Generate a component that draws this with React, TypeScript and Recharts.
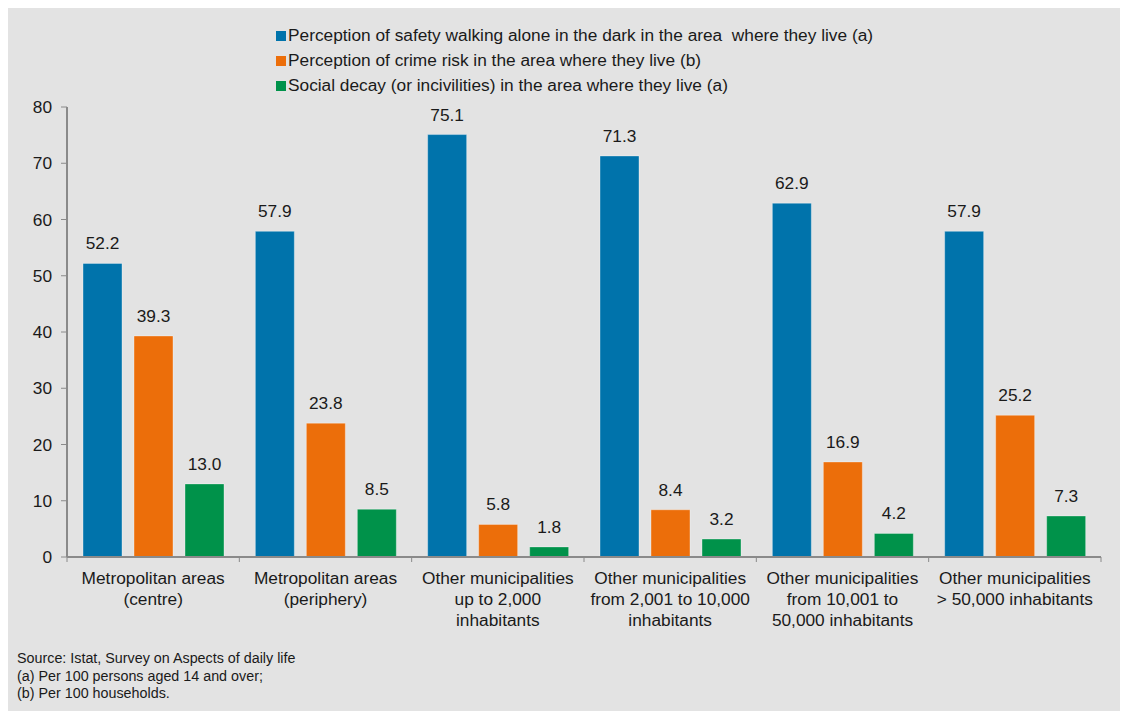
import { Bar, BarChart, LabelList, Legend, XAxis, YAxis } from 'recharts'

const categories = [
  'Metropolitan areas\n(centre)',
  'Metropolitan areas\n(periphery)',
  'Other municipalities\nup to 2,000\ninhabitants',
  'Other municipalities\nfrom 2,001 to 10,000\ninhabitants',
  'Other municipalities\nfrom 10,001 to\n50,000 inhabitants',
  'Other municipalities\n> 50,000 inhabitants',
]
const safety = [52.2, 57.9, 75.1, 71.3, 62.9, 57.9]
const crime = [39.3, 23.8, 5.8, 8.4, 16.9, 25.2]
const decay = [13.0, 8.5, 1.8, 3.2, 4.2, 7.3]
const yTicks = [0, 10, 20, 30, 40, 50, 60, 70, 80]
const notes = [
  'Source: Istat, Survey on Aspects of daily life',
  '(a) Per 100 persons aged 14 and over;',
  '(b) Per 100 households.',
]

const SERIES = [
  { key: 'safety', name: 'Perception of safety walking alone in the dark in the area  where they live (a)', color: '#0073ab' },
  { key: 'crime', name: 'Perception of crime risk in the area where they live (b)', color: '#ec6e0a' },
  { key: 'decay', name: 'Social decay (or incivilities) in the area where they live (a)', color: '#00924a' },
]

const data = categories.map((name, i) => ({ name, safety: safety[i], crime: crime[i], decay: decay[i] }))

const W = 1120
const H = 703
const LEFT = 59
const RIGHT = 27
const FS = 17.3
const FONT = '"Liberation Sans", Arial, sans-serif'
const TEXT = '#1a1a1a'
const AXIS = '#8a8a8a'
const BAND = (W - LEFT - RIGHT) / categories.length

function XTick(props: any) {
  const { x, y, payload, index } = props
  const half = payload?.offset || BAND / 2
  const lines = String(payload.value).split('\n')
  return (
    <g>
      <line x1={x - half} x2={x - half} y1={y - 8} y2={y - 3} stroke={AXIS} />
      {index === categories.length - 1 && (
        <line x1={x + half} x2={x + half} y1={y - 8} y2={y - 3} stroke={AXIS} />
      )}
      {lines.map((l, i) => (
        <text key={i} x={x} y={y + 19 + i * 21} textAnchor="middle" fontSize={FS} fill={TEXT} fontFamily={FONT}>
          {l}
        </text>
      ))}
    </g>
  )
}

function LegendBox() {
  return (
    <div style={{ fontFamily: FONT, fontSize: FS, color: TEXT }}>
      {SERIES.map((s) => (
        <div key={s.key} style={{ display: 'flex', alignItems: 'center', height: 25, whiteSpace: 'pre' }}>
          <span style={{ width: 10, height: 10, background: s.color, marginRight: 2, display: 'inline-block' }} />
          <span>{s.name}</span>
        </div>
      ))}
    </div>
  )
}

export default function App() {
  return (
    <div style={{ position: 'relative', width: W, height: H, background: '#e3e3e3', fontFamily: FONT }}>
      <BarChart
        width={W}
        height={H}
        data={data}
        margin={{ top: 99, right: RIGHT, left: 0, bottom: 0 }}
        barCategoryGap={16}
        barGap={12}
      >
        <Legend
          layout="vertical"
          align="center"
          verticalAlign="middle"
          content={() => <LegendBox />}
          wrapperStyle={{ top: 15, left: 268, width: 'auto', height: 'auto' }}
        />
        <XAxis
          dataKey="name"
          height={154}
          interval={0}
          tickLine={false}
          axisLine={{ stroke: AXIS, strokeWidth: 2 }}
          tick={<XTick />}
        />
        <YAxis
          width={LEFT}
          domain={[0, 80]}
          ticks={yTicks}
          tickSize={6}
          tickMargin={9}
          tickLine={{ stroke: AXIS }}
          axisLine={{ stroke: AXIS, strokeWidth: 2 }}
          tick={{ fill: TEXT, fontSize: FS, fontFamily: FONT }}
        />
        {SERIES.map((s) => (
          <Bar
            key={s.key}
            dataKey={s.key}
            name={s.name}
            fill={s.color}
            stroke="rgba(255,255,255,0.35)"
            strokeWidth={1}
            isAnimationActive={false}
          >
            <LabelList
              dataKey={s.key}
              position="top"
              offset={14}
              fill={TEXT}
              fontSize={FS}
              fontFamily={FONT}
              formatter={(v: any) => Number(v).toFixed(1)}
            />
          </Bar>
        ))}
      </BarChart>
      <div
        style={{
          position: 'absolute',
          left: 9,
          top: 641,
          fontFamily: FONT,
          fontSize: 15.4,
          lineHeight: '17.7px',
          color: TEXT,
          whiteSpace: 'nowrap',
          transform: 'scaleX(0.93)',
          transformOrigin: 'left top',
        }}
      >
        {notes.map((n) => (
          <div key={n}>{n}</div>
        ))}
      </div>
    </div>
  )
}
